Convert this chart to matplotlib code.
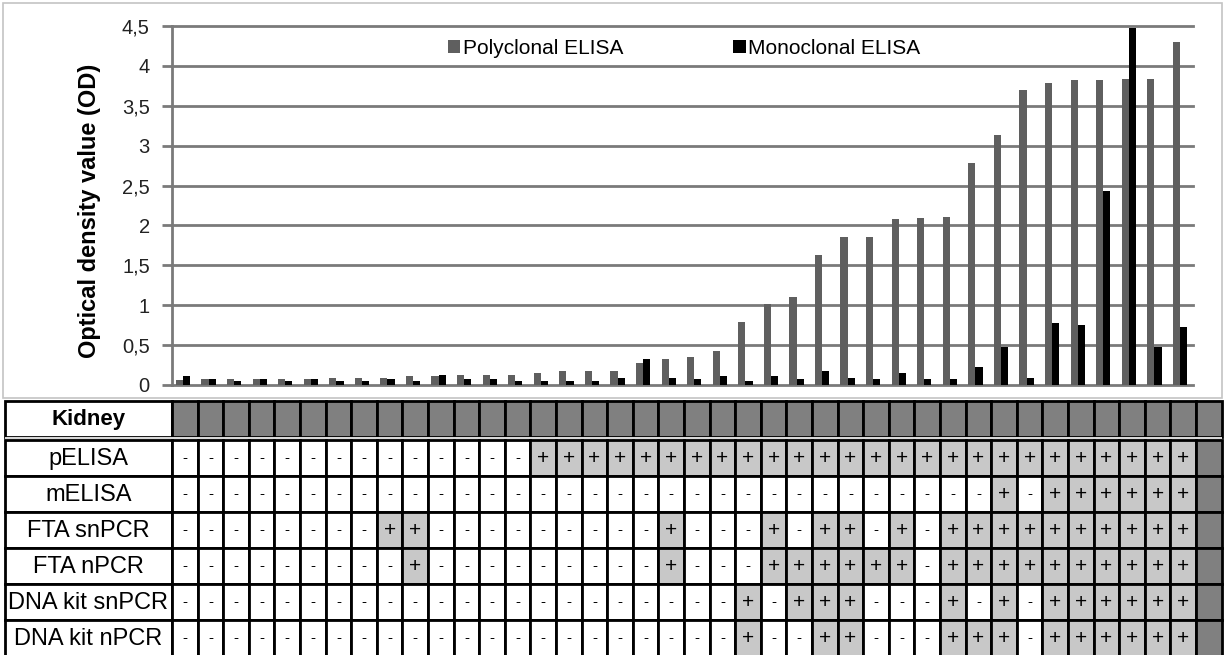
import matplotlib.pyplot as plt
from matplotlib.patches import Rectangle
import numpy as np

plt.rcParams['font.family'] = ['Liberation Sans', 'DejaVu Sans']

W, H = 1226, 655

# OD values per sample (sorted by polyclonal OD)
poly = [0.06, 0.07, 0.07, 0.07, 0.07, 0.07, 0.09, 0.09, 0.09, 0.11,
        0.11, 0.13, 0.13, 0.13, 0.15, 0.17, 0.17, 0.17, 0.28, 0.33,
        0.35, 0.43, 0.79, 1.01, 1.10, 1.63, 1.86, 1.86, 2.08, 2.09,
        2.11, 2.78, 3.13, 3.70, 3.78, 3.82, 3.82, 3.84, 3.84, 4.30]
mono = [0.11, 0.07, 0.05, 0.07, 0.05, 0.07, 0.05, 0.05, 0.07, 0.05,
        0.13, 0.07, 0.07, 0.05, 0.05, 0.05, 0.05, 0.09, 0.32, 0.09,
        0.07, 0.11, 0.05, 0.11, 0.07, 0.17, 0.09, 0.07, 0.15, 0.07,
        0.07, 0.22, 0.48, 0.09, 0.78, 0.75, 2.43, 4.47, 0.48, 0.73]

yticks = [0, 0.5, 1, 1.5, 2, 2.5, 3, 3.5, 4, 4.5]
ytick_labels = ["0", "0,5", "1", "1,5", "2", "2,5", "3", "3,5", "4", "4,5"]

row_names = ["pELISA", "mELISA", "FTA snPCR", "FTA nPCR", "DNA kit snPCR", "DNA kit nPCR"]
row_results = [
    "--------------++++++++++++++++++++++++++",
    "--------------------------------+-++++++",
    "--------++---------+---+-++-+-++++++++++",
    "---------+---------+---++++++-++++++++++",
    "----------------------+-+++---+-+-++++++",
    "----------------------+--++---+++-++++++",
]

fig = plt.figure(figsize=(W / 100, H / 100), dpi=100)

# ------------------ bar chart ------------------
ax = fig.add_axes([172 / W, (H - 385) / H, (1193 - 172) / W, 359 / H])
x = np.arange(len(poly))
bw = 0.28
ax.bar(x - bw / 2, poly, bw, color='#5f5f5f', label='Polyclonal ELISA', zorder=3)
ax.bar(x + bw / 2, mono, bw, color='black', label='Monoclonal ELISA', zorder=3)
ax.set_xlim(-0.43, 39.51)
ax.set_ylim(0, 4.5)
ax.set_yticks(yticks)
ax.set_yticklabels(ytick_labels)
ax.yaxis.grid(True, color='#7a7a7a', linewidth=2)
for gl in ax.yaxis.get_gridlines():
    gl.set_clip_on(False)
ax.set_axisbelow(True)
for s in ['top', 'right', 'bottom']:
    ax.spines[s].set_visible(False)
ax.spines['left'].set_color('#7a7a7a')
ax.spines['left'].set_linewidth(2)
ax.tick_params(axis='y', length=7, width=2, color='#7a7a7a', labelsize=14.5, pad=9, labelcolor='#222222')
ax.tick_params(axis='x', bottom=False, labelbottom=False)

fig.text(90 / W, 1 - 211 / H, "Optical density value (OD)", rotation=90,
         ha='center', va='center', fontsize=17, fontweight='bold')

ax.legend(loc='center', bbox_to_anchor=(684 / W, 1 - 48 / H), bbox_transform=fig.transFigure,
          ncol=2, frameon=False, fontsize=15, handlelength=0.6, handleheight=0.6,
          handletextpad=0.1, columnspacing=5.3)

# ------------------ results table ------------------
tax = fig.add_axes([0, 0, 1, 1], zorder=-1)
tax.set_xlim(0, W)
tax.set_ylim(H, 0)
tax.axis('off')

# light frame round the chart
tax.add_patch(Rectangle((3, 3), 1219, 395, fill=False, edgecolor='#c4c4c4', lw=1.2))

lab_x0, lab_x1 = 5, 172
col_w = 25.6
ncol = len(poly)
lw = 2

# Kidney header row
ky0, ky1 = 401, 437
tax.add_patch(Rectangle((lab_x0, ky0), lab_x1 - lab_x0, ky1 - ky0, facecolor='white', edgecolor='black', lw=lw))
tax.text((lab_x0 + lab_x1) / 2, (ky0 + ky1) / 2 + 1, "Kidney", ha='center', va='center',
         fontsize=16, fontweight='bold')
for j in range(ncol + 1):
    cx = lab_x1 + j * col_w
    w = col_w if j < ncol else 1222 - cx
    tax.add_patch(Rectangle((cx, ky0), w, ky1 - ky0, facecolor='#808080', edgecolor='black', lw=lw))

tax.add_patch(Rectangle((lab_x0, ky1), 1222 - lab_x0, 3, facecolor='#d8d8d8', edgecolor='none'))

row_h = 36
ry_start = 440
for r, (name, res) in enumerate(zip(row_names, row_results)):
    y0 = ry_start + r * row_h
    tax.add_patch(Rectangle((lab_x0, y0), lab_x1 - lab_x0, row_h, facecolor='white', edgecolor='black', lw=lw))
    tax.text((lab_x0 + lab_x1) / 2, y0 + row_h / 2 + 1, name, ha='center', va='center', fontsize=17)
    for j, v in enumerate(res):
        cx = lab_x1 + j * col_w
        fc = '#c8c8c8' if v == '+' else 'white'
        tax.add_patch(Rectangle((cx, y0), col_w, row_h, facecolor=fc, edgecolor='black', lw=lw))
        tax.text(cx + col_w / 2, y0 + row_h / 2, v, ha='center', va='center',
                 fontsize=15 if v == '+' else 11)
    cx = lab_x1 + ncol * col_w
    tax.add_patch(Rectangle((cx, y0), 1222 - cx, row_h, facecolor='#808080', edgecolor='black', lw=lw))

fig.savefig("out.png", dpi=100)
